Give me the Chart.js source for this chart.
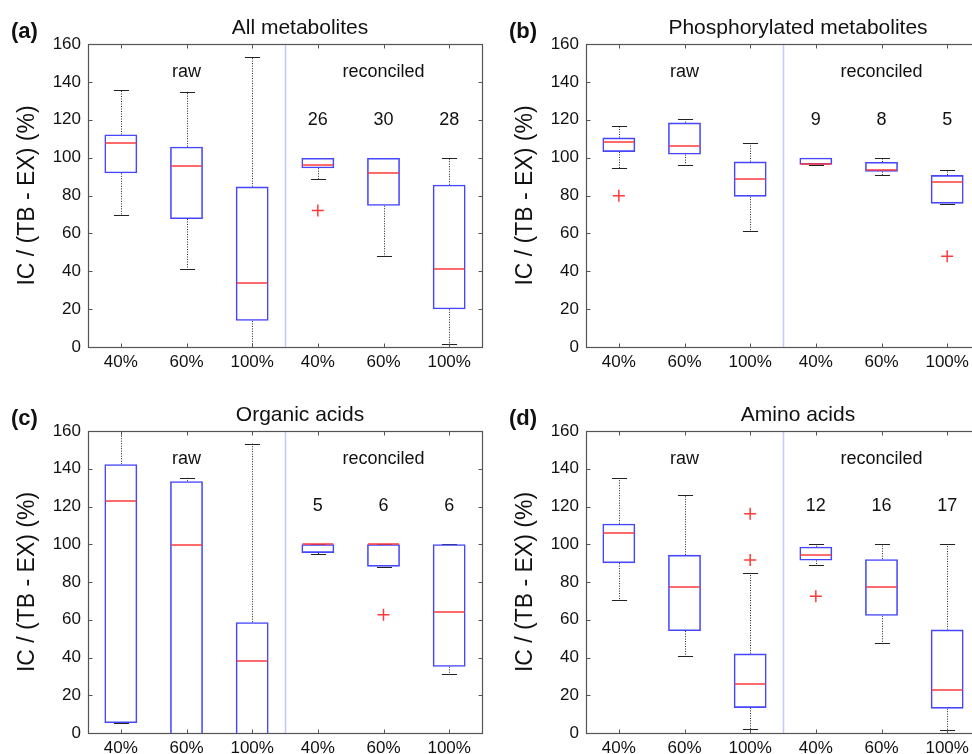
<!DOCTYPE html>
<html><head><meta charset="utf-8">
<script src="https://cdn.jsdelivr.net/npm/chart.js@4"></script>
<style>
html,body{margin:0;padding:0;background:#fff;overflow:hidden;width:972px;height:754px;position:relative}
canvas{position:absolute}
</style></head><body>
<canvas id="ca" width="490" height="380" style="left:0;top:0"></canvas>
<canvas id="cb" width="500" height="380" style="left:490px;top:0"></canvas>
<canvas id="cc" width="490" height="386" style="left:0;top:380px"></canvas>
<canvas id="cd" width="500" height="386" style="left:490px;top:380px"></canvas>
<script>
// ---- data ----
const categories = ['40%','60%','100%','40%','60%','100%'];
const groupLabels = ['raw','reconciled'];
const groupAt = [1, 4];

// (a) All metabolites
const aLow  = [69.9, 41.1, 0,     88.6, 47.8, 1.8];
const aQ1   = [91.7, 67.6, 13.8,  94.4, 74.6, 19.9];
const aMed  = [107.6,95.8, 33.9,  96.3, 92.1, 41.3];
const aQ3   = [112.2,105.8,84.7,  99.8, 99.8, 85.7];
const aHigh = [135.5,134.9,152.9, 99.8, 99.8, 100];
const aOut  = [{x:3, y:72.1}];
const aN    = [null,null,null,26,30,28];

// (b) Phosphorylated metabolites
const bLow  = [94.4, 96.3, 61.3, 96.0, 90.7, 75.7];
const bQ1   = [103.0,101.6,79.4, 96.3, 92.6, 75.7];
const bMed  = [108.1,106.3,88.7, 96.7, 93.5, 87.0];
const bQ3   = [110.6,118.5,97.9, 100,  97.7, 90.8];
const bHigh = [116.9,120.6,107.6,100,  100,  93.5];
const bOut  = [{x:0, y:79.9},{x:5, y:47.9}];
const bN    = [null,null,null,9,8,5];

// (c) Organic acids
const cLow  = [5.3,  -10,  -10,  94.8, 88.1, 31.5];
const cQ1   = [5.3,  -10,  -10,  95.4, 88.1, 35.1];
const cMed  = [122.8,99.6, 38.2, 100,  100,  64.0];
const cQ3   = [142.4,133.4,58.7, 100,  100,  100];
const cHigh = [175,  135.2,153.3,100,  100,  100];
const cOut  = [{x:4, y:62.7}];
const cN    = [null,null,null,5,6,6];

// (d) Amino acids
const dLow  = [70.2, 41.0, 1.9,  88.9, 47.9, 1.4];
const dQ1   = [90.0, 54.0, 13.3, 91.4, 62.1, 12.9];
const dMed  = [105.9,77.2, 25.8, 94.4, 77.6, 22.6];
const dQ3   = [110.9,94.4, 42.1, 98.7, 92.1, 54.8];
const dHigh = [134.9,126.1,84.7, 100,  100,  100];
const dOut  = [{x:2, y:116.2},{x:2, y:91.6},{x:3, y:72.5}];
const dN    = [null,null,null,12,16,17];

// ---- drawing ----
const FONT = "'Liberation Sans', Arial, Helvetica, sans-serif";
Chart.defaults.font.family = FONT;
Chart.defaults.color = '#111';
const BLUE = '#4646ff', RED = '#ff3a3a', FRAME = '#555', DIV = '#c4c8ff';

const boxPlugin = {
  id: 'boxplot',
  beforeDatasetsDraw(chart) {
    const p = chart.options.plugins.boxplot;
    const {ctx, chartArea: ca} = chart;
    const x = chart.scales.x, y = chart.scales.y;
    ctx.save();
    ctx.beginPath(); ctx.rect(ca.left, ca.top, ca.right - ca.left, ca.bottom - ca.top); ctx.clip();
    // divider
    const dx = Math.round((x.getPixelForValue(2) + x.getPixelForValue(3)) / 2) + 0.5;
    ctx.strokeStyle = DIV; ctx.lineWidth = 1.5;
    ctx.beginPath(); ctx.moveTo(dx, ca.top); ctx.lineTo(dx, ca.bottom); ctx.stroke();
    const cw = x.getPixelForValue(1) - x.getPixelForValue(0);
    for (let i = 0; i < categories.length; i++) {
      const cx = Math.round(x.getPixelForValue(i)) + 0.5;
      ctx.strokeStyle = '#222'; ctx.lineWidth = 1;
      ctx.setLineDash([1, 1.5]);
      ctx.beginPath();
      ctx.moveTo(cx, y.getPixelForValue(p.q3[i])); ctx.lineTo(cx, y.getPixelForValue(p.high[i]));
      ctx.moveTo(cx, y.getPixelForValue(p.q1[i])); ctx.lineTo(cx, y.getPixelForValue(p.low[i]));
      ctx.stroke();
      ctx.setLineDash([]);
      const hw = cw * 0.115;
      ctx.beginPath();
      for (const v of [p.high[i], p.low[i]]) {
        const py = Math.round(y.getPixelForValue(v)) + 0.5;
        ctx.moveTo(cx - hw, py); ctx.lineTo(cx + hw, py);
      }
      ctx.stroke();
    }
    ctx.restore();
  },
  afterDatasetsDraw(chart) {
    const p = chart.options.plugins.boxplot;
    const {ctx, chartArea: ca} = chart;
    const x = chart.scales.x, y = chart.scales.y;
    const bars = chart.getDatasetMeta(0).data;
    ctx.save();
    ctx.beginPath(); ctx.rect(ca.left, ca.top, ca.right - ca.left, ca.bottom - ca.top); ctx.clip();
    ctx.strokeStyle = RED; ctx.lineWidth = 1.5;
    for (let i = 0; i < bars.length; i++) {
      const b = bars[i];
      const py = Math.round(y.getPixelForValue(p.med[i]));
      ctx.beginPath(); ctx.moveTo(b.x - b.width / 2 + 1, py); ctx.lineTo(b.x + b.width / 2 - 1, py); ctx.stroke();
    }
    ctx.restore();
    // frame
    ctx.save();
    ctx.strokeStyle = FRAME; ctx.lineWidth = 1.2;
    const L = Math.round(ca.left) + 0.5, R = Math.round(ca.right) + 0.5, T = Math.round(ca.top) + 0.5, B = Math.round(ca.bottom) + 0.5;
    ctx.strokeRect(L, T, R - L, B - T);
    ctx.lineWidth = 1;
    ctx.beginPath();
    for (let i = 0; i < categories.length; i++) {
      const px = Math.round(x.getPixelForValue(i)) + 0.5;
      ctx.moveTo(px, B); ctx.lineTo(px, B - 4);
      ctx.moveTo(px, T); ctx.lineTo(px, T + 4);
    }
    y.ticks.forEach(t => {
      const py = Math.round(y.getPixelForValue(t.value)) + 0.5;
      ctx.moveTo(L, py); ctx.lineTo(L + 4, py);
      ctx.moveTo(R, py); ctx.lineTo(R - 4, py);
    });
    ctx.stroke();
    // in-plot texts
    ctx.fillStyle = '#111';
    ctx.textAlign = 'center'; ctx.textBaseline = 'middle';
    ctx.font = '18px ' + FONT;
    groupLabels.forEach((g, k) => ctx.fillText(g, x.getPixelForValue(groupAt[k]), y.getPixelForValue(145)));
    p.n.forEach((v, i) => { if (v !== null) ctx.fillText(String(v), x.getPixelForValue(i), y.getPixelForValue(120)); });
    // title and panel label
    ctx.textBaseline = 'alphabetic';
    ctx.font = '21px ' + FONT;
    ctx.fillText(p.title, (ca.left + ca.right) / 2 + 15, ca.top - 10);
    ctx.textAlign = 'left';
    ctx.font = 'bold 22px ' + FONT;
    ctx.fillText(p.tag, ca.left - 77, ca.top - 6);
    ctx.restore();
  }
};

function makePanel(id, tag, title, low, q1, med, q3, high, outliers, n, padLeft, padTop, padRight) {
  new Chart(document.getElementById(id), {
    type: 'bar',
    data: {
      labels: categories,
      datasets: [
        { type: 'bar', data: q1.map((v, i) => [v, q3[i]]), grouped: false,
          backgroundColor: 'rgba(0,0,0,0)', borderColor: BLUE, borderWidth: 1.6,
          borderSkipped: false, barPercentage: 0.5, categoryPercentage: 1.0, clip: 0 },
        { type: 'scatter', xAxisID: 'xs', data: outliers, pointStyle: 'cross', pointRadius: 6,
          borderColor: RED, backgroundColor: RED, pointBorderWidth: 1.5, borderWidth: 1.5 }
      ]
    },
    options: {
      responsive: false, animation: false, devicePixelRatio: 1,
      layout: { padding: { left: padLeft, top: padTop, right: padRight, bottom: 0 } },
      plugins: {
        legend: { display: false }, tooltip: { enabled: false }, title: { display: false },
        boxplot: { low, q1, med, q3, high, n, title, tag }
      },
      scales: {
        x: {
          type: 'category', offset: true,
          grid: { display: false, drawTicks: false }, border: { display: false },
          ticks: { font: { size: 17 }, color: '#111', padding: 5, maxRotation: 0, autoSkip: false },
          afterFit(s) { s.height = 33; }
        },
        xs: {
          type: 'linear', position: 'bottom', min: -0.5, max: categories.length - 0.5,
          display: false, offset: false
        },
        y: {
          min: 0, max: 160,
          grid: { display: false, drawTicks: false }, border: { display: false },
          ticks: { stepSize: 20, font: { size: 17 }, color: '#111', padding: 7 },
          title: { display: true, text: 'IC / (TB - EX) (%)', font: { size: 23 }, color: '#111', padding: { top: 14, bottom: 0 } },
          afterFit(s) { s.width = 88; }
        }
      }
    },
    plugins: [boxPlugin]
  });
}

makePanel('ca', '(a)', 'All metabolites', aLow, aQ1, aMed, aQ3, aHigh, aOut, aN, 0, 44, 8);
makePanel('cb', '(b)', 'Phosphorylated metabolites', bLow, bQ1, bMed, bQ3, bHigh, bOut, bN, 8, 44, 10);
makePanel('cc', '(c)', 'Organic acids', cLow, cQ1, cMed, cQ3, cHigh, cOut, cN, 0, 51, 8);
makePanel('cd', '(d)', 'Amino acids', dLow, dQ1, dMed, dQ3, dHigh, dOut, dN, 8, 51, 10);
</script>
</body></html>
